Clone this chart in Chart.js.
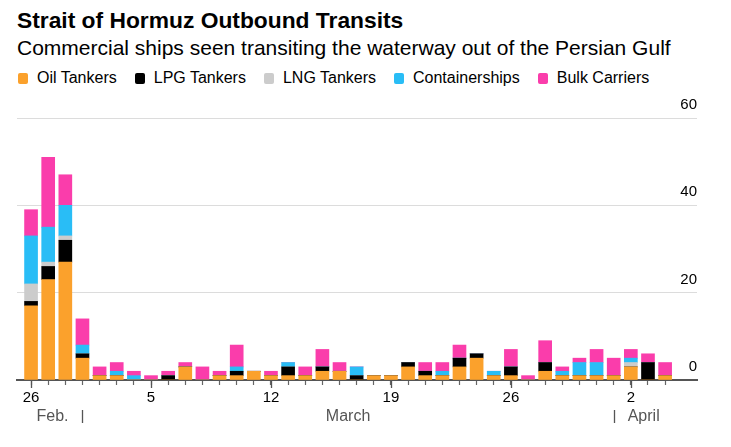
<!DOCTYPE html>
<html>
<head>
<meta charset="utf-8">
<script src="https://cdn.jsdelivr.net/npm/chart.js@4.4.1/dist/chart.umd.min.js"></script>
<style>
  body { margin: 0; width: 731px; height: 447px; background: #fff; position: relative; overflow: hidden;
         font-family: "Liberation Sans", Arial, sans-serif; color: #000; }
  #title { position: absolute; left: 17px; top: 7px; font-size: 22.8px; font-weight: bold; line-height: 26px; white-space: nowrap; }
  #subtitle { position: absolute; left: 17px; top: 36px; font-size: 21px; line-height: 24px; white-space: nowrap; }
  #legend { position: absolute; left: 18px; top: 69px; display: flex; font-size: 16px; line-height: 18px; white-space: nowrap; }
  .item { display: flex; align-items: center; margin-right: 18px; }
  .sw { width: 10px; height: 11px; border-radius: 2px; margin-right: 9px; }
  #wrap { position: absolute; left: 0; top: 90px; width: 731px; height: 357px; }
</style>
</head>
<body>
<div id="title">Strait of Hormuz Outbound Transits</div>
<div id="subtitle">Commercial ships seen transiting the waterway out of the Persian Gulf</div>
<div id="legend"></div>
<div id="wrap"><canvas id="chart" width="731" height="357"></canvas></div>
<script>
// days, Feb 26 to Apr 4
const dates = ['2/26', '2/27', '2/28',
  '3/1', '3/2', '3/3', '3/4', '3/5', '3/6', '3/7', '3/8', '3/9', '3/10',
  '3/11', '3/12', '3/13', '3/14', '3/15', '3/16', '3/17', '3/18', '3/19', '3/20',
  '3/21', '3/22', '3/23', '3/24', '3/25', '3/26', '3/27', '3/28', '3/29', '3/30', '3/31',
  '4/1', '4/2', '4/3', '4/4'];

// ships per day
const oilTankers     = [17, 23, 27, 5, 1, 1, 0, 0, 0, 3, 0, 1, 1, 2, 1, 1, 1, 2, 2, 0, 1, 1, 3, 1, 1, 3, 5, 1, 1, 0, 2, 1, 1, 1, 1, 3, 0, 1];
const lpgTankers     = [1, 3, 5, 1, 0, 0, 0, 0, 1, 0, 0, 0, 1, 0, 0, 2, 0, 1, 0, 1, 0, 0, 1, 1, 0, 2, 1, 0, 2, 0, 2, 0, 0, 0, 0, 0, 4, 0];
const lngTankers     = [4, 1, 1, 0, 0, 0, 0, 0, 0, 0, 0, 0, 0, 0, 0, 0, 0, 0, 0, 0, 0, 0, 0, 0, 0, 0, 0, 0, 0, 0, 0, 0, 0, 0, 0, 1, 0, 0];
const containerships = [11, 8, 7, 2, 0, 1, 1, 0, 0, 0, 0, 0, 1, 0, 0, 1, 0, 0, 0, 2, 0, 0, 0, 0, 1, 0, 0, 1, 0, 0, 0, 1, 3, 3, 0, 1, 0, 0];
const bulkCarriers   = [6, 16, 7, 6, 2, 2, 1, 1, 1, 1, 3, 1, 5, 0, 1, 0, 2, 4, 2, 0, 0, 0, 0, 2, 2, 3, 0, 0, 4, 1, 5, 1, 1, 3, 4, 2, 2, 3];

const seriesNames  = ['Oil Tankers', 'LPG Tankers', 'LNG Tankers', 'Containerships', 'Bulk Carriers'];
const seriesColors = ['#FBA12C', '#000000', '#CCCCCC', '#29BDF6', '#FA3DAB'];
const seriesValues = [oilTankers, lpgTankers, lngTankers, containerships, bulkCarriers];

// x axis labels
const tickIdx    = [0, 7, 14, 21, 28, 35];
const tickLabels = ['26', '5', '12', '19', '26', '2'];
const months     = ['Feb.', 'March', 'April'];
const monthStart = [0, 3, 34];

// html legend
const legendEl = document.getElementById('legend');
seriesNames.forEach((name, i) => {
    const item = document.createElement('div');
    item.className = 'item';
    item.innerHTML = `<span class="sw" style="background:${seriesColors[i]}"></span>${name}`;
    legendEl.appendChild(item);
});

// month names, month separators and longer ticks under the axis
const monthAxis = {
    id: 'monthAxis',
    afterDraw(chart) {
        const { ctx, scales: { x }, chartArea } = chart;
        const base = chartArea.bottom;
        ctx.save();
        ctx.strokeStyle = '#555';
        ctx.lineWidth = 1.3;
        tickIdx.forEach(i => {
            const px = Math.round(x.getPixelForValue(i)) + 0.5;
            ctx.beginPath();
            ctx.moveTo(px, base);
            ctx.lineTo(px, base + 8);
            ctx.stroke();
        });
        ctx.font = '16px "Liberation Sans", Arial, sans-serif';
        ctx.fillStyle = '#555';
        ctx.textAlign = 'center';
        ctx.textBaseline = 'middle';
        months.forEach((m, k) => {
            const a = k === 0 ? -0.5 : monthStart[k];
            const b = k < months.length - 1 ? monthStart[k + 1] : dates.length - 0.5;
            ctx.fillText(m, x.getPixelForValue((a + b) / 2), base + 37);
            if (k > 0) {
                const px = Math.round(x.getPixelForValue(monthStart[k])) + 0.5;
                ctx.beginPath();
                ctx.moveTo(px, base + 30);
                ctx.lineTo(px, base + 43);
                ctx.stroke();
            }
        });
        ctx.restore();
    }
};

new Chart(document.getElementById('chart'), {
    type: 'bar',
    data: {
        datasets: seriesValues.map((vals, s) => ({
            label: seriesNames[s],
            data: vals.map((v, i) => ({ x: i, y: v })),
            backgroundColor: seriesColors[s],
            borderWidth: 0,
            barThickness: 13
        }))
    },
    options: {
        responsive: false,
        animation: false,
        devicePixelRatio: 1,
        layout: { padding: { left: 17, right: 34, top: 28, bottom: 36 } },
        plugins: { legend: { display: false }, tooltip: { enabled: false } },
        scales: {
            x: {
                type: 'linear',
                stacked: true,
                offset: false,
                bounds: 'data',
                min: -0.82,
                max: 38.86,
                afterBuildTicks: scale => { scale.ticks = dates.map((d, i) => ({ value: i })); },
                afterFit: scale => { scale.paddingLeft = 0; scale.paddingRight = 0; },
                ticks: {
                    autoSkip: false,
                    maxRotation: 0,
                    includeBounds: false,
                    padding: 4,
                    color: '#000',
                    font: { family: '"Liberation Sans", Arial, sans-serif', size: 15 },
                    callback: value => {
                        const k = tickIdx.indexOf(value);
                        return k >= 0 ? tickLabels[k] : '';
                    }
                },
                grid: { offset: false, drawOnChartArea: false, drawTicks: true, tickLength: 5, tickColor: '#666', tickWidth: 1.2 },
                border: { display: true, color: '#555', width: 2 }
            },
            y: {
                position: 'right',
                stacked: true,
                min: 0,
                max: 60,
                afterFit: scale => { scale.width = 0; },
                ticks: {
                    stepSize: 20,
                    mirror: true,
                    padding: 0,
                    labelOffset: -13,
                    color: '#000',
                    font: { family: '"Liberation Sans", Arial, sans-serif', size: 15 }
                },
                grid: { color: '#dcdcdc', lineWidth: 1, drawTicks: false },
                border: { display: false }
            }
        }
    },
    plugins: [monthAxis]
});
</script>
</body>
</html>
